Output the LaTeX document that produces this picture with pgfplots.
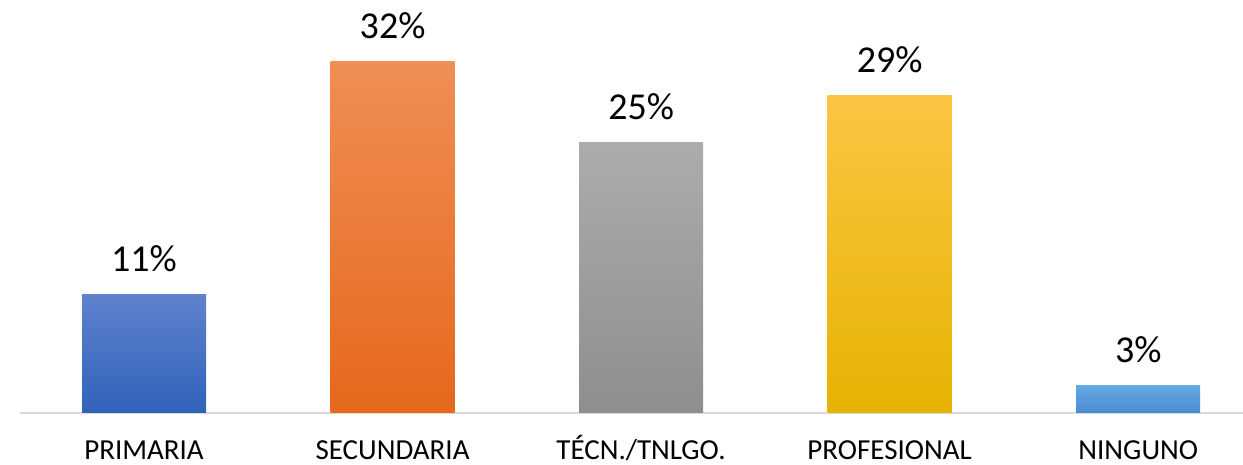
\documentclass[border=0pt]{standalone}
\usepackage{fontspec}
\setmainfont{Carlito}
\usepackage{pgfplots}
\pgfplotsset{compat=1.18}
\definecolor{blueT}{HTML}{5E82CD}
\definecolor{blueB}{HTML}{3162BA}
\definecolor{orT}{HTML}{F08E55}
\definecolor{orB}{HTML}{E5681B}
\definecolor{grT}{HTML}{ACACAC}
\definecolor{grB}{HTML}{8E8E8E}
\definecolor{yeT}{HTML}{FDC443}
\definecolor{yeB}{HTML}{E6B300}
\definecolor{lbT}{HTML}{66A8E0}
\definecolor{lbB}{HTML}{4A8CD2}
\definecolor{axl}{HTML}{D9D9D9}
\begin{document}
\begin{tikzpicture}
\begin{axis}[
  at={(0,0)}, anchor=south west,
  scale only axis,
  width=611.3pt, height=206.5pt,
  xmin=-0.499, xmax=4.42,
  ymin=0, ymax=37.65,
  ybar, bar width=62pt, bar shift=0pt,
  axis x line*=bottom,
  axis y line=none,
  x axis line style={axl, line width=1pt, -},
  xtick={0,1,2,3,4},
  xticklabels={PRIMARIA,SECUNDARIA,TÉCN./TNLGO.,PROFESIONAL,NINGUNO},
  major tick length=0pt,
  xticklabel style={anchor=base, yshift=-23.5pt, inner sep=0pt, font=\fontsize{14.5}{16}\selectfont, text=black},
  point meta=explicit symbolic,
  nodes near coords={\pgfplotspointmeta\%},
  every node near coord/.append style={anchor=base, yshift=11.5pt, inner sep=0pt, font=\fontsize{19}{22}\selectfont, text=black},
  clip=false,
]
\addplot[draw=none, top color=blueT, bottom color=blueB] coordinates {(0,10.8) [11]};
\addplot[draw=none, top color=orT, bottom color=orB] coordinates {(1,32) [32]};
\addplot[draw=none, top color=grT, bottom color=grB] coordinates {(2,24.7) [25]};
\addplot[draw=none, top color=yeT, bottom color=yeB] coordinates {(3,28.9) [29]};
\addplot[draw=none, top color=lbT, bottom color=lbB] coordinates {(4,2.5) [3]};
\end{axis}
\pgfresetboundingbox
\path (-10pt,-26pt) rectangle (611.5pt,206.5pt);
\end{tikzpicture}
\end{document}
